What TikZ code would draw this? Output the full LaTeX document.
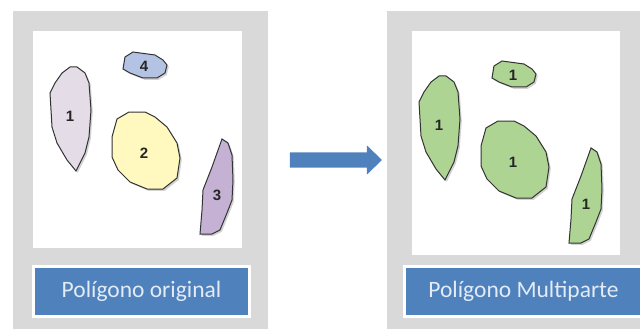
\documentclass[tikz,border=0pt]{standalone}
\usepackage{fontspec}
\setmainfont{Carlito}
\newfontfamily\numfont{Liberation Sans}
\usetikzlibrary{shadows,shapes.arrows}
\definecolor{panelgray}{RGB}{217,217,217}
\definecolor{boxblue}{RGB}{79,129,189}
\definecolor{boxtext}{RGB}{226,235,246}
\definecolor{lavfill}{RGB}{228,220,230}
\definecolor{yelfill}{RGB}{255,248,191}
\definecolor{purfill}{RGB}{196,177,211}
\definecolor{blufill}{RGB}{180,195,228}
\definecolor{grnfill}{RGB}{174,212,148}
\begin{document}
\begin{tikzpicture}[x=1pt,y=-1pt]
	\useasboundingbox (0,0) rectangle (640,329);
	\tikzstyle{panel}=[fill=panelgray]
	\tikzstyle{map}=[fill=white]
	\tikzstyle{part}=[draw=black!80,line width=1pt,drop shadow={shadow xshift=1.8pt,shadow yshift=-1.8pt,opacity=.35}]
	\tikzstyle{num}=[font=\numfont\bfseries\fontsize{15}{15}\selectfont,text=black!85,inner sep=0pt]
	\tikzstyle{caption}=[fill=boxblue,draw=white,line width=3pt,minimum height=50pt,text=boxtext,font=\fontsize{23.5}{27}\selectfont]
	
	% panels
	\fill[panel] (13,11) rectangle (268,335);
	\fill[panel] (387,11) rectangle (650,335);
	\fill[map] (33,31) rectangle (242,248);
	\fill[map] (412,31) rectangle (620,255);
	
	% polygons, before and after
	\foreach \dx/\dy/\ca/\cb/\cc/\cd/\na/\nb/\nc/\nd/\sd in {0/0/lavfill/yelfill/purfill/blufill/1/2/3/4/L, 369/9/grnfill/grnfill/grnfill/grnfill/1/1/1/1/R} {
		\begin{scope}[shift={(\dx,\dy)}]
			\draw[part,fill=\ca] (70,67) -- (77,67) -- (85,73) -- (89,83) -- (91,110) -- (89,137) -- (85,153) -- (76,171) -- (67,160) -- (57,143) -- (52,127) -- (50,93) -- (55,83) -- (62,73) -- cycle;
			\draw[part,fill=\cb] (117,119) -- (129,112) -- (145,112) -- (155,117) -- (167,127) -- (177,143) -- (180,158) -- (177,178) -- (163,189) -- (147,189) -- (130,182) -- (118,170) -- (112,157) -- (112,137) -- cycle;
			\draw[part,fill=\cc] (222,139) -- (228,143) -- (232,155) -- (233,180) -- (232,200) -- (227,213) -- (220,230) -- (212,234) -- (200,234) -- (202,210) -- (203,190) -- (212,167) -- cycle;
			\draw[part,fill=\cd] (125,57) -- (133,52) -- (155,55) -- (163,60) -- (167,65) -- (165,73) -- (157,78) -- (143,78) -- (130,73) -- (123,69) -- cycle;
			\node[num] (a\sd) at (70,116) {\na};
			\node[num] (b\sd) at (144,153) {\nb};
			\node[num] (c\sd) at (217,195) {\nc};
			\node[num] (d\sd) at (144,66) {\nd};
		\end{scope}
	}
	
	\node[caption,minimum width=216pt] (capL) at (141.5,291.5) {Polígono original};
	\node[caption,minimum width=238pt] (capR) at (523.5,291.5) {Polígono Multiparte};
	
	\node[single arrow,fill=boxblue,inner xsep=0pt,inner ysep=7.5pt,minimum height=92pt,minimum width=29pt,single arrow head extend=7pt,single arrow tip angle=88] (step) at (332,160) {};
\end{tikzpicture}
\end{document}
